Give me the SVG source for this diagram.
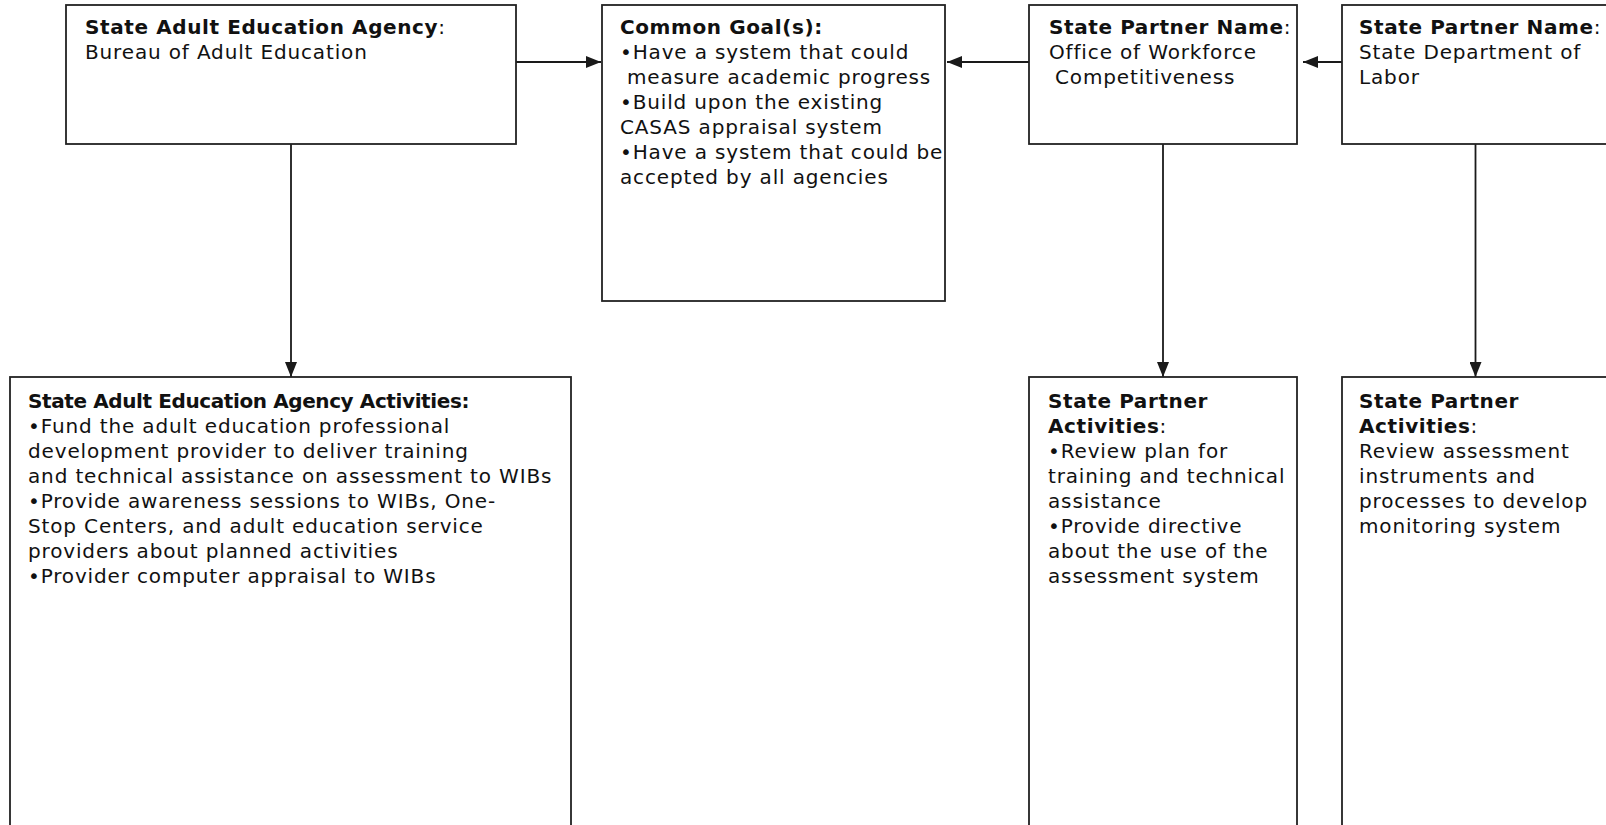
<svg xmlns="http://www.w3.org/2000/svg" width="1606" height="825" viewBox="0 0 1606 825">
  <style>
    .box { fill: #ffffff; stroke: #222222; stroke-width: 1.8; }
    .link { fill: none; stroke: #1a1a1a; stroke-width: 1.8; }
    text { font-family: "DejaVu Sans", Verdana, sans-serif; font-size: 20px; fill: #111111; letter-spacing: 0.85px; }
    .b { font-weight: bold; font-size: 20px; letter-spacing: 0.6px; }
    .r { font-weight: normal; font-size: 20px; }
  </style>
  <defs>
    <marker id="arrow" markerUnits="userSpaceOnUse" markerWidth="15" markerHeight="12" refX="15" refY="6" orient="auto">
      <path d="M0,0 L15,6 L0,12 Z" fill="#1a1a1a"/>
    </marker>
  </defs>
  <rect width="1606" height="825" fill="#ffffff"/>

  <!-- connectors -->
  <g id="connectors">
    <line class="link" x1="516" y1="62" x2="601" y2="62" marker-end="url(#arrow)"/>
    <line class="link" x1="1029" y1="62" x2="947" y2="62" marker-end="url(#arrow)"/>
    <line class="link" x1="1342" y1="62" x2="1303" y2="62" marker-end="url(#arrow)"/>
    <line class="link" x1="291" y1="144" x2="291" y2="377" marker-end="url(#arrow)"/>
    <line class="link" x1="1163" y1="144" x2="1163" y2="377" marker-end="url(#arrow)"/>
    <line class="link" x1="1475.5" y1="144" x2="1475.5" y2="377" marker-end="url(#arrow)"/>
  </g>

  <!-- state adult education agency -->
  <g id="agency">
    <rect class="box" x="66" y="5" width="450" height="139"/>
    <text x="85" y="34"><tspan class="b">State Adult Education Agency</tspan><tspan class="r">:</tspan></text>
    <text x="85" y="59">Bureau of Adult Education</text>
  </g>

  <!-- common goals -->
  <g id="goals">
    <rect class="box" x="602" y="5" width="343" height="296"/>
    <text x="620" y="34" class="b">Common Goal(s):</text>
    <text x="620" y="59">•Have a system that could</text>
    <text x="627" y="84">measure academic progress</text>
    <text x="620" y="109">•Build upon the existing</text>
    <text x="620" y="134">CASAS appraisal system</text>
    <text x="620" y="159">•Have a system that could be</text>
    <text x="620" y="184">accepted by all agencies</text>
  </g>

  <!-- partner: workforce -->
  <g id="partner-workforce">
    <rect class="box" x="1029" y="5" width="268" height="139"/>
    <text x="1049" y="34"><tspan class="b">State Partner Name</tspan><tspan class="r">:</tspan></text>
    <text x="1049" y="59">Office of Workforce</text>
    <text x="1055" y="84">Competitiveness</text>
  </g>

  <!-- partner: labor -->
  <g id="partner-labor">
    <rect class="box" x="1342" y="5" width="280" height="139"/>
    <text x="1359" y="34"><tspan class="b">State Partner Name</tspan><tspan class="r">:</tspan></text>
    <text x="1359" y="59">State Department of</text>
    <text x="1359" y="84">Labor</text>
  </g>

  <!-- agency activities -->
  <g id="agency-activities">
    <rect class="box" x="10" y="377" width="561" height="460"/>
    <text x="28" y="408" class="b" textLength="442" lengthAdjust="spacing">State Adult Education Agency Activities:</text>
    <text x="28" y="433">•Fund the adult education professional</text>
    <text x="28" y="458">development provider to deliver training</text>
    <text x="28" y="483">and technical assistance on assessment to WIBs</text>
    <text x="28" y="508">•Provide awareness sessions to WIBs, One-</text>
    <text x="28" y="533">Stop Centers, and adult education service</text>
    <text x="28" y="558">providers about planned activities</text>
    <text x="28" y="583">•Provider computer appraisal to WIBs</text>
  </g>

  <!-- partner activities: workforce -->
  <g id="workforce-activities">
    <rect class="box" x="1029" y="377" width="268" height="460"/>
    <text x="1048" y="408" class="b">State Partner</text>
    <text x="1048" y="433"><tspan class="b">Activities</tspan><tspan class="r">:</tspan></text>
    <text x="1048" y="458">•Review plan for</text>
    <text x="1048" y="483">training and technical</text>
    <text x="1048" y="508">assistance</text>
    <text x="1048" y="533">•Provide directive</text>
    <text x="1048" y="558">about the use of the</text>
    <text x="1048" y="583">assessment system</text>
  </g>

  <!-- partner activities: labor -->
  <g id="labor-activities">
    <rect class="box" x="1342" y="377" width="280" height="460"/>
    <text x="1359" y="408" class="b">State Partner</text>
    <text x="1359" y="433"><tspan class="b">Activities</tspan><tspan class="r">:</tspan></text>
    <text x="1359" y="458">Review assessment</text>
    <text x="1359" y="483">instruments and</text>
    <text x="1359" y="508">processes to develop</text>
    <text x="1359" y="533">monitoring system</text>
  </g>
</svg>
